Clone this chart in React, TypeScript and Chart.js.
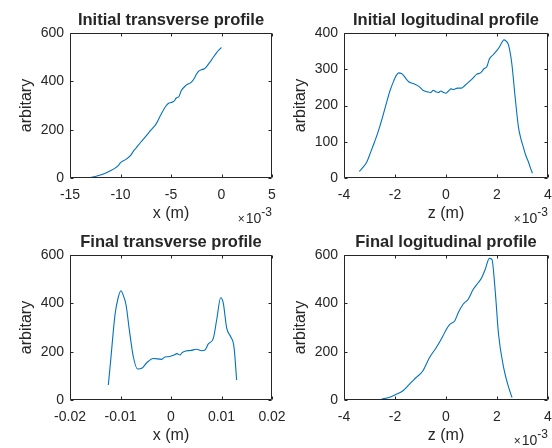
import React, { useEffect, useRef } from "react";
import { Chart, registerables } from "chart.js";

Chart.register(...registerables);

// ---------- data ----------
// Initial transverse profile (x in units of 1e-3 m)
const initTransX = [-13.5, -13.0, -12.5, -12.0, -11.5, -11.0, -10.5, -10.2, -10.0, -9.5, -9.0, -8.7, -8.5, -8.0, -7.5, -7.0, -6.5, -6.0, -5.5, -5.2, -5.0, -4.7, -4.5, -4.2, -4.0, -3.5, -3.0, -2.7, -2.5, -2.2, -2.0, -1.7, -1.5, -1.0, -0.5, -0.2, 0];
const initTransY = [0, 2, 6, 12, 20, 30, 42, 52, 64, 76, 94, 112, 122, 148, 172, 198, 222, 262, 298, 310, 312, 318, 330, 338, 360, 384, 396, 412, 428, 444, 448, 452, 460, 488, 518, 532, 540];

// Initial logitudinal profile (z in units of 1e-3 m)
const initLongX = [-3.4, -3.25, -3.1, -2.95, -2.8, -2.65, -2.5, -2.35, -2.2, -2.05, -1.95, -1.85, -1.75, -1.65, -1.55, -1.45, -1.35, -1.2, -1.05, -0.9, -0.75, -0.6, -0.5, -0.4, -0.3, -0.2, -0.1, 0, 0.1, 0.2, 0.3, 0.45, 0.6, 0.75, 0.9, 1.05, 1.2, 1.35, 1.5, 1.6, 1.7, 1.85, 2.0, 2.1, 2.2, 2.27, 2.35, 2.45, 2.58, 2.71, 2.84, 2.93, 3.03, 3.13, 3.23, 3.31, 3.39];
const initLongY = [18, 30, 45, 72, 100, 130, 165, 203, 240, 268, 283, 290, 288, 282, 272, 265, 262, 258, 252, 242, 238, 236, 242, 238, 236, 240, 236, 234, 240, 246, 244, 248, 248, 256, 265, 275, 286, 290, 302, 307, 328, 340, 352, 362, 375, 381, 378, 367, 316, 224, 141, 110, 86, 62, 45, 28, 13];

// Final transverse profile (x in m)
const finalTransX = [-0.01241, -0.01194, -0.01109, -0.0105, -0.0099, -0.0094, -0.0089, -0.00825, -0.00746, -0.0066, -0.0058, -0.0048, -0.0035, -0.00185, -0.0012, -0.00053, 0.0005, 0.0012, 0.00178, 0.0022, 0.0029, 0.0039, 0.00508, 0.00607, 0.00673, 0.00739, 0.00838, 0.00904, 0.00984, 0.01036, 0.01103, 0.01182, 0.01248, 0.013];
const finalTransY = [62, 165, 352, 420, 452, 430, 393, 290, 179, 128, 131, 154, 172, 168, 178, 179, 185, 192, 186, 196, 203, 205, 210, 204, 207, 232, 255, 331, 423, 400, 297, 262, 218, 83];

// Final logitudinal profile (z in units of 1e-3 m)
const finalLongX = [-2.52, -2.23, -1.97, -1.7, -1.44, -1.18, -0.91, -0.65, -0.38, -0.12, 0.01, 0.15, 0.34, 0.48, 0.67, 0.87, 1.07, 1.27, 1.4, 1.54, 1.7, 1.8, 1.93, 2.06, 2.26, 2.46, 2.59];
const finalLongY = [4, 10, 23, 37, 65, 92, 120, 175, 217, 265, 292, 313, 327, 361, 396, 417, 458, 486, 506, 541, 586, 582, 451, 272, 134, 51, 10];

// ---------- ticks ----------
const xTicks1 = [-15, -10, -5, 0, 5];
const xTickLabels1 = ["-15", "-10", "-5", "0", "5"];
const xTicks2 = [-4, -2, 0, 2, 4];
const xTickLabels2 = ["-4", "-2", "0", "2", "4"];
const xTicks3 = [-0.02, -0.01, 0, 0.01, 0.02];
const xTickLabels3 = ["-0.02", "-0.01", "0", "0.01", "0.02"];
const xTicks4 = [-4, -2, 0, 2, 4];
const xTickLabels4 = ["-4", "-2", "0", "2", "4"];
const yTicks600 = [0, 200, 400, 600];
const yTicks400 = [0, 100, 200, 300, 400];

const FONT = '"Liberation Sans", Arial, Helvetica, sans-serif';
const TEXT = "#262626";
const BLUE = "#0072BD";
const W = 552;
const H = 448;

type Panel = {
  title: string;
  xs: number[];
  ys: number[];
  xTicks: number[];
  xTickLabels: string[];
  yTicks: number[];
  xLabel: string;
  exponent: boolean;
  area: { left: number; top: number; right: number; bottom: number };
};

const panels: Panel[] = [
  { title: "Initial transverse profile", xs: initTransX, ys: initTransY, xTicks: xTicks1, xTickLabels: xTickLabels1, yTicks: yTicks600, xLabel: "x (m)", exponent: true, area: { left: 70, top: 33, right: 272, bottom: 178 } },
  { title: "Initial logitudinal profile", xs: initLongX, ys: initLongY, xTicks: xTicks2, xTickLabels: xTickLabels2, yTicks: yTicks400, xLabel: "z (m)", exponent: true, area: { left: 344, top: 33, right: 548, bottom: 178 } },
  { title: "Final transverse profile", xs: finalTransX, ys: finalTransY, xTicks: xTicks3, xTickLabels: xTickLabels3, yTicks: yTicks600, xLabel: "x (m)", exponent: false, area: { left: 70, top: 255, right: 272, bottom: 400 } },
  { title: "Final logitudinal profile", xs: finalLongX, ys: finalLongY, xTicks: xTicks4, xTickLabels: xTickLabels4, yTicks: yTicks600, xLabel: "z (m)", exponent: true, area: { left: 344, top: 255, right: 548, bottom: 400 } },
];

function axesPlugin(p: Panel) {
  return {
    id: "matlabAxes",
    afterDraw(chart: any) {
      const { ctx, chartArea: a, scales } = chart;
      const xs = scales.x;
      const ys = scales.y;
      ctx.save();
      ctx.strokeStyle = TEXT;
      ctx.lineWidth = 1;
      const L = Math.round(a.left) + 0.5;
      const T = Math.round(a.top) + 0.5;
      const R = Math.round(a.right) - 0.5;
      const B = Math.round(a.bottom) - 0.5;
      ctx.beginPath();
      ctx.rect(L, T, R - L, B - T);
      ctx.stroke();
      const tl = 3;
      ctx.beginPath();
      p.xTicks.forEach((v) => {
        const x = Math.round(xs.getPixelForValue(v)) + 0.5;
        ctx.moveTo(x, B);
        ctx.lineTo(x, B - tl);
        ctx.moveTo(x, T);
        ctx.lineTo(x, T + tl);
      });
      p.yTicks.forEach((v) => {
        const y = Math.round(ys.getPixelForValue(v)) + 0.5;
        ctx.moveTo(L, y);
        ctx.lineTo(L + tl, y);
        ctx.moveTo(R, y);
        ctx.lineTo(R - tl, y);
      });
      ctx.stroke();

      ctx.fillStyle = TEXT;
      ctx.font = `14px ${FONT}`;
      ctx.textAlign = "center";
      ctx.textBaseline = "alphabetic";
      p.xTicks.forEach((v, i) => {
        ctx.fillText(p.xTickLabels[i], xs.getPixelForValue(v), a.bottom + 21);
      });
      ctx.textAlign = "right";
      ctx.textBaseline = "middle";
      p.yTicks.forEach((v) => {
        ctx.fillText(String(v), a.left - 6, ys.getPixelForValue(v));
      });

      // title
      ctx.font = `bold 16.5px ${FONT}`;
      ctx.textAlign = "center";
      ctx.textBaseline = "alphabetic";
      ctx.fillText(p.title, (a.left + a.right) / 2, a.top - 8);

      // x label
      ctx.font = `16px ${FONT}`;
      ctx.fillText(p.xLabel, (a.left + a.right) / 2, a.bottom + 40);

      // y label
      ctx.save();
      ctx.translate(a.left - 43, (a.top + a.bottom) / 2);
      ctx.rotate(-Math.PI / 2);
      ctx.textBaseline = "middle";
      ctx.fillText("arbitary", 0, 0);
      ctx.restore();

      // exponent
      if (p.exponent) {
        const ex = a.right;
        const by = a.bottom + 45;
        ctx.textAlign = "right";
        ctx.font = `12px ${FONT}`;
        const sup = "-3";
        const supW = ctx.measureText(sup).width;
        ctx.fillText(sup, ex, by - 7);
        ctx.font = `14px ${FONT}`;
        ctx.fillText("10", ex - supW, by);
        const tenW = ctx.measureText("10").width;
        ctx.font = `12px ${FONT}`;
        ctx.fillText("\u00d7", ex - supW - tenW - 1, by);
      }
      ctx.restore();
    },
  };
}

function PanelChart({ p }: { p: Panel }) {
  const ref = useRef<HTMLCanvasElement | null>(null);
  useEffect(() => {
    if (!ref.current) return;
    const xMin = p.xTicks[0];
    const xMax = p.xTicks[p.xTicks.length - 1];
    const yMin = p.yTicks[0];
    const yMax = p.yTicks[p.yTicks.length - 1];
    const chart = new Chart(ref.current, {
      type: "line",
      data: {
        datasets: [
          {
            data: p.xs.map((x, i) => ({ x, y: p.ys[i] })),
            borderColor: BLUE,
            borderWidth: 1.1,
            pointRadius: 0,
            fill: false,
            cubicInterpolationMode: "monotone",
          },
        ],
      },
      options: {
        animation: false,
        responsive: false,
        devicePixelRatio: 1,
        events: [],
        layout: {
          padding: {
            left: p.area.left,
            top: p.area.top,
            right: W - p.area.right,
            bottom: H - p.area.bottom,
          },
        },
        plugins: { legend: { display: false }, title: { display: false }, tooltip: { enabled: false } },
        scales: {
          x: { type: "linear", display: false, min: xMin, max: xMax },
          y: { type: "linear", display: false, min: yMin, max: yMax },
        },
      },
      plugins: [axesPlugin(p)],
    } as any);
    return () => chart.destroy();
  }, [p]);
  return (
    <canvas
      ref={ref}
      width={W}
      height={H}
      style={{ position: "absolute", left: 0, top: 0, width: W, height: H }}
    />
  );
}

export default function App() {
  return (
    <div style={{ position: "fixed", left: 0, top: 0, width: W, height: H, background: "#ffffff" }}>
      {panels.map((p, i) => (
        <PanelChart key={i} p={p} />
      ))}
    </div>
  );
}
